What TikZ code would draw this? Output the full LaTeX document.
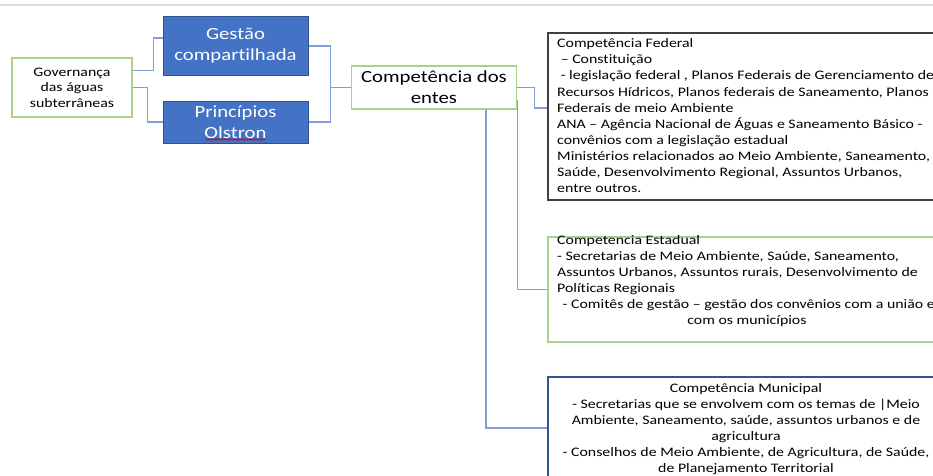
\documentclass[tikz,border=0pt]{standalone}
\usepackage{fontspec}
\setmainfont{Carlito}[FakeStretch=1.22, Ligatures=NoCommon]
\usetikzlibrary{decorations.pathmorphing}

\definecolor{linkblue}{HTML}{7F9FDA}
\definecolor{boxgreen}{HTML}{A9D18E}
\definecolor{fillblue}{HTML}{4472C4}
\definecolor{edgeblue}{HTML}{2F528F}
\definecolor{munblue}{HTML}{2F5597}
\definecolor{fededge}{HTML}{404040}
\definecolor{rulegray}{HTML}{DCDCDC}

\begin{document}
\begin{tikzpicture}[x=1pt,y=-1pt,
  conn/.style={draw=linkblue, line width=1.3pt},
  greenbox/.style={draw=boxgreen, line width=1.4pt, fill=white, inner sep=0pt, align=center},
  bluebox/.style={draw=edgeblue, fill=fillblue, line width=1pt, text=white, inner sep=0pt,
    align=center, font=\fontsize{17}{21}\selectfont},
  smalltext/.style={font=\fontsize{13}{16.1}\selectfont, inner sep=0pt},
  panel/.style={fill=white, inner sep=0pt, minimum width=396pt}]

\useasboundingbox (0,0) rectangle (933,475);
\clip (0,0) rectangle (933,475);

% thin rule along the top edge
\draw[rulegray, line width=2.5pt] (0,5) -- (933,5);

% left part of the chart
\node[greenbox, minimum width=120pt, minimum height=59pt,
      font=\fontsize{13}{15.5}\selectfont] (gov) at (72,87.5)
  {Governança\\das águas\\subterrâneas};
\node[bluebox, minimum width=145pt, minimum height=59pt] (gestao) at (235.5,46)
  {Gestão\\compartilhada};
\node[bluebox, minimum width=145pt, minimum height=42pt] (princ) at (235.5,122)
  {Princípios\\Olstron};
\draw[red!85!black, line width=0.6pt,
      decoration={snake, amplitude=0.8pt, segment length=2.6pt}, decorate]
  ([xshift=-30pt,yshift=4pt]princ.south) -- ([xshift=30pt,yshift=4pt]princ.south);
\node[greenbox, minimum width=165pt, minimum height=43pt,
      font=\fontsize{17}{21}\selectfont] (entes) at (434,87.5)
  {Competência dos\\entes};

% panels on the right
\node[panel, draw=fededge, line width=1.5pt, minimum height=167pt] (fed) at (746,116.5) {};
\node[smalltext, anchor=north west, align=left] (fedtxt) at (557,38.5)
  {Competência Federal\\
   \ – Constituição\\
   \ - legislação federal , Planos Federais de Gerenciamento de\\
   Recursos Hídricos, Planos federais de Saneamento, Planos\\
   Federais de meio Ambiente\\
   ANA – Agência Nacional de Águas e Saneamento Básico -\\
   convênios com a legislação estadual\\
   Ministérios relacionados ao Meio Ambiente, Saneamento,\\
   Saúde, Desenvolvimento Regional, Assuntos Urbanos,\\
   entre outros.};

\node[panel, draw=boxgreen, line width=1.4pt, minimum height=105pt] (est) at (746,289.5) {};
\node[smalltext, anchor=north west, align=left] (esttxt) at (557,235)
  {Competencia Estadual\\
   - Secretarias de Meio Ambiente, Saúde, Saneamento,\\
   Assuntos Urbanos, Assuntos rurais, Desenvolvimento de\\
   Políticas Regionais};
\node[smalltext, anchor=north, align=center] (estcom) at (747,299.5)
  {\ - Comitês de gestão – gestão dos convênios com a união e\\
   com os municípios};

\node[panel, draw=munblue, line width=1.3pt, minimum height=112pt] (mun) at (746,433) {};
\node[smalltext, anchor=north, align=center] (muntxt) at (746,383)
  {Competência Municipal\\
   - Secretarias que se envolvem com os temas de |Meio\\
   Ambiente, Saneamento, saúde, assuntos urbanos e de\\
   agricultura\\
   - Conselhos de Meio Ambiente, de Agricultura, de Saúde,\\
   de Planejamento Territorial};

% connectors
\draw[conn] ([yshift=17pt]gov.east) -- ++(21,0) |- ([yshift=8pt]gestao.west);
\draw[conn] (gov.east) -- ++(15,0) |- (princ.west);
\draw[conn] (gestao.east) -- ++(22,0) |- (entes.west);
\draw[conn] (princ.east) -- ++(22,0) |- (entes.west);
\draw[conn] (entes.east) -- ++(17,0) |- ([yshift=8.5pt]fed.west);
\draw[conn] ([yshift=10pt]entes.south east) |- (est.west);
\draw[conn] ([xshift=52pt]entes.south) |- ([yshift=5pt]mun.west);

\end{tikzpicture}
\end{document}
